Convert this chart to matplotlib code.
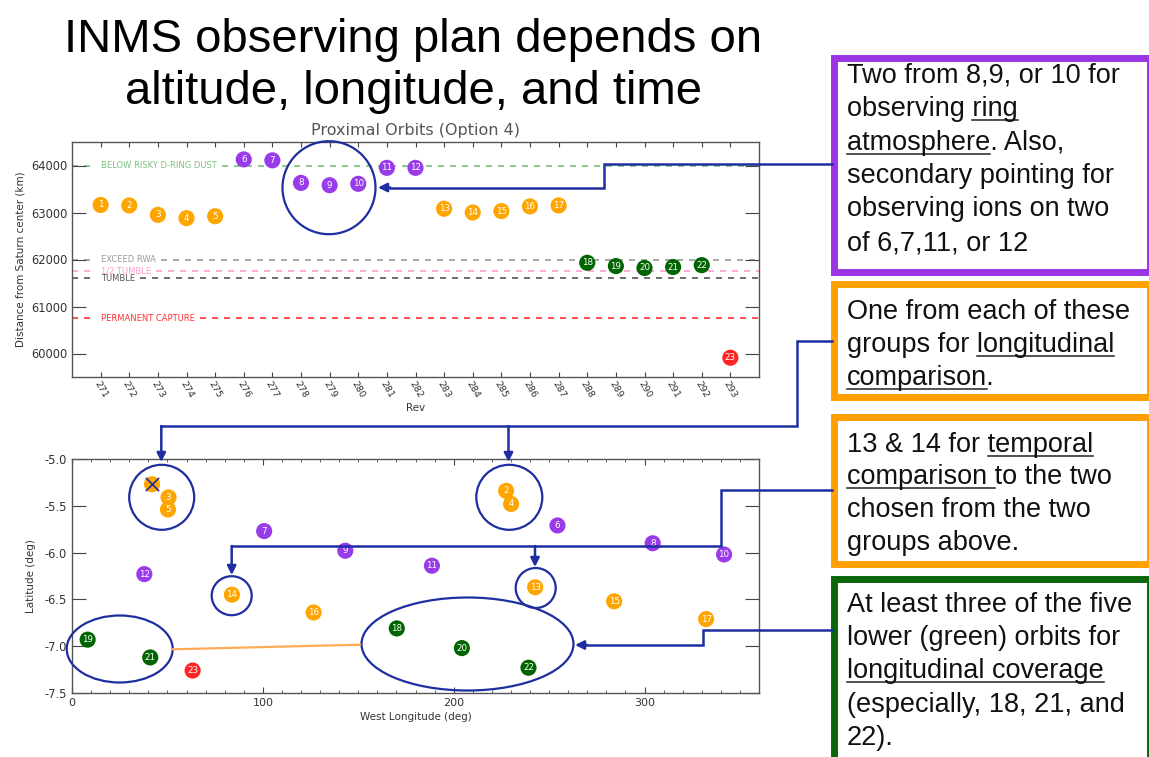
import matplotlib
matplotlib.use('Agg')
import matplotlib.pyplot as plt
from matplotlib.patches import Ellipse, Rectangle
from matplotlib.ticker import MultipleLocator, FormatStrFormatter

# ---- data ----
orbit_ids = [1, 2, 3, 4, 5, 6, 7, 8, 9, 10, 11, 12, 13, 14, 15, 16, 17, 18, 19, 20, 21, 22, 23]
revs = [271, 272, 273, 274, 275, 276, 277, 278, 279, 280, 281, 282,
        283, 284, 285, 286, 287, 288, 289, 290, 291, 292, 293]
distance_km = [63160, 63150, 62950, 62880, 62920, 64130, 64110, 63630, 63580, 63610, 63950, 63950,
               63080, 63000, 63030, 63130, 63150, 61930, 61860, 61820, 61840, 61880, 59910]
west_lon = [41.9, 227.5, 50.6, 230.1, 50.3, 254.4, 100.7, 304.3, 143.2, 341.7, 188.6, 37.9,
            242.7, 83.8, 284.1, 126.6, 332.3, 170.2, 8.2, 204.3, 41.0, 239.2, 63.2]
latitude = [-5.27, -5.34, -5.41, -5.48, -5.54, -5.71, -5.77, -5.90, -5.98, -6.02, -6.14, -6.23,
            -6.37, -6.45, -6.52, -6.64, -6.71, -6.81, -6.93, -7.02, -7.12, -7.23, -7.26]
groups = ['orange'] * 5 + ['purple'] * 7 + ['orange'] * 5 + ['green'] * 5 + ['red']

limit_values = [64000, 62000, 61750, 61600, 60750]
limit_names = ['BELOW RISKY D-RING DUST', 'EXCEED RWA', '1/2 TUMBLE', 'TUMBLE', 'PERMANENT CAPTURE']
limit_colors = ['#7cc07c', '#9a9a9a', '#ff9ccf', '#555555', '#ff3030']

lat_ticks = [-7.5, -7.0, -6.5, -6.0, -5.5, -5.0]
lon_ticks = [0, 100, 200, 300]
dist_ticks = [60000, 61000, 62000, 63000, 64000]

GROUP_COLORS = {'orange': '#ffa500', 'purple': '#9a3bea', 'green': '#006400', 'red': '#ff2424'}
BLUE = '#1e2ea0'
FONT = 'Liberation Sans'
W, H = 1149, 757

fig = plt.figure(figsize=(W / 100, H / 100), dpi=100)
fig.patch.set_facecolor('white')
renderer = fig.canvas.get_renderer()


def px_axes(x0, y0, x1, y1):
    """axes from image pixel box"""
    return fig.add_axes([x0 / W, 1 - y1 / H, (x1 - x0) / W, (y1 - y0) / H])


def style_axes(ax):
    for spine in ax.spines.values():
        spine.set_color('#555555')
        spine.set_linewidth(1)
    ax.tick_params(which='both', direction='in', top=True, right=True,
                   colors='#444444', labelcolor='#333333', labelsize=8)


colors = [GROUP_COLORS[g] for g in groups]

# ---- top panel: distance vs rev ----
ax1 = px_axes(72, 142, 759, 377)
style_axes(ax1)
ax1.set_xlim(270, 294)
ax1.set_ylim(59500, 64500)
for val, name, col in zip(limit_values, limit_names, limit_colors):
    t = ax1.text(271, val, name, color=col, fontsize=6, ha='left', va='center', zorder=2)
    bb = t.get_window_extent(renderer).transformed(ax1.transData.inverted())
    # dashed line with a gap where the label sits
    ax1.plot([270, 270.8], [val, val], color=col, lw=1.2, dashes=(3.6, 3.6), zorder=1)
    ax1.plot([bb.x1 + 0.2, 294], [val, val], color=col, lw=1.2, dashes=(3.6, 3.6), zorder=1)
ax1.scatter(revs, distance_km, s=135, c=colors, edgecolors='none', zorder=3)
for r, d, n in zip(revs, distance_km, orbit_ids):
    ax1.text(r, d, str(n), color='white', fontsize=6.3, ha='center', va='center', zorder=4)
ax1.set_xticks(revs)
ax1.set_xticklabels([str(r) for r in revs], rotation=-60, fontsize=6.8, ha='center')
ax1.set_yticks(dist_ticks)
ax1.tick_params(axis='y', length=10, labelsize=8.3)
ax1.tick_params(axis='x', length=3.5, pad=2)
ax1.set_xlabel('Rev', fontsize=7.5, color='#333333', labelpad=2)
ax1.set_ylabel('Distance from Saturn center (km)', fontsize=7.5, color='#333333', labelpad=4)
ax1.set_title('Proximal Orbits (Option 4)', fontsize=11.5, color='#555555', pad=5)

# ---- bottom panel: latitude vs west longitude ----
ax2 = px_axes(72, 459, 759, 693)
style_axes(ax2)
ax2.set_xlim(0, 360)
ax2.set_ylim(-7.5, -5.0)
ax2.scatter(west_lon, latitude, s=135, c=colors, edgecolors='none', zorder=3)
for lo, la, n in zip(west_lon, latitude, orbit_ids):
    if n == 1:
        ax2.scatter([lo], [la], marker='x', s=90, color=BLUE, linewidths=1.2, zorder=5)
        continue
    ax2.text(lo, la, str(n), color='white', fontsize=6.3, ha='center', va='center', zorder=4)
ax2.set_xticks(lon_ticks)
ax2.xaxis.set_minor_locator(MultipleLocator(10))
ax2.set_yticks(lat_ticks)
ax2.yaxis.set_major_formatter(FormatStrFormatter('%.1f'))
ax2.tick_params(axis='y', length=10, labelsize=8.3)
ax2.tick_params(axis='x', which='major', length=4)
ax2.tick_params(axis='x', which='minor', length=2.5)
ax2.set_xlabel('West Longitude (deg)', fontsize=7.5, color='#333333', labelpad=3)
ax2.set_ylabel('Latitude (deg)', fontsize=7.5, color='#333333', labelpad=6)

# ---- overlay in image pixels for title, boxes and callouts ----
ov = fig.add_axes([0, 0, 1, 1])
ov.set_xlim(0, W)
ov.set_ylim(H, 0)
ov.axis('off')

ov.text(413.5, 52, 'INMS observing plan depends on', fontsize=34, family=FONT,
        ha='center', va='baseline', color='black')
ov.text(413.5, 104, 'altitude, longitude, and time', fontsize=34, family=FONT,
        ha='center', va='baseline', color='black')

# circles around orbit groups
for (cx, cy), w, h in [((329, 187.7), 93, 93), ((161.7, 497.3), 65, 65),
                       ((509.3, 497.3), 66, 65), ((231.7, 595.7), 40, 39),
                       ((535.7, 588), 40, 40), ((119.7, 649), 106, 67),
                       ((467.5, 644), 212, 93)]:
    ov.add_patch(Ellipse((cx, cy), w, h, fill=False, ec=BLUE, lw=1.6))
ov.plot([172.7, 360], [649.3, 644.7], color='#ffaa55', lw=1.6)


def callout(path, tips):
    xs, ys = zip(*path)
    ov.plot(xs, ys, color=BLUE, lw=1.8, solid_joinstyle='miter')
    for (x0, y0), (x1, y1) in tips:
        ov.annotate('', xy=(x1, y1), xytext=(x0, y0),
                    arrowprops=dict(arrowstyle='-|>', color=BLUE, lw=1.8,
                                    mutation_scale=13, shrinkA=0, shrinkB=0))


callout([(832, 164), (603.5, 164), (603.5, 187.5), (390, 187.5)],
        [((390, 187.5), (378, 187.5))])
callout([(832, 340.7), (797, 340.7), (797, 426), (161.3, 426)],
        [((161.3, 426), (161.3, 462)), ((508.5, 426), (508.5, 462))])
callout([(832, 490), (720.7, 490), (720.7, 546), (231.7, 546)],
        [((231.7, 546), (231.7, 575)), ((535, 546), (535, 567))])
callout([(832, 630), (703.3, 630), (703.3, 645), (587, 645)],
        [((587, 645), (575, 645))])

# text boxes (right edge partly runs off the slide)
for y0, y1, col in [(57.5, 271.5, '#9a35e6'), (283.5, 396.5, '#ffa000'),
                    (416.5, 563.5, '#ffa000'), (578.5, 770, '#0b650b')]:
    ov.add_patch(Rectangle((833.5, y0), 1149.5 - 833.5, y1 - y0, fc='white', ec=col, lw=5))

BOX_SIZE = 19.5


def text_width(s):
    t = ov.text(0, 0, '|' + s + '|', fontsize=BOX_SIZE, family=FONT)
    w = t.get_window_extent(renderer).width
    t.remove()
    t = ov.text(0, 0, '||', fontsize=BOX_SIZE, family=FONT)
    w -= t.get_window_extent(renderer).width
    t.remove()
    return w


def rich_line(x, y, parts):
    full = ''.join(p for p, _ in parts)
    ov.text(x, y, full, fontsize=BOX_SIZE, family=FONT, ha='left', va='baseline', color='#111111')
    cur = x
    for p, ul in parts:
        w = text_width(p)
        if ul:
            ov.plot([cur, cur + w], [y + 3.5, y + 3.5], color='#222222', lw=1.1)
        cur += w


box_lines = [
    (83, [('Two from 8,9, or 10 for', False)]),
    (116.5, [('observing ', False), ('ring', True)]),
    (150, [('atmosphere', True), ('. Also,', False)]),
    (183, [('secondary pointing for', False)]),
    (216.5, [('observing ions on two', False)]),
    (250, [('of 6,7,11, or 12', False)]),
    (319, [('One from each of these', False)]),
    (352, [('groups for ', False), ('longitudinal', True)]),
    (385, [('comparison', True), ('.', False)]),
    (452, [('13 & 14 for ', False), ('temporal', True)]),
    (484, [('comparison ', True), ('to the two', False)]),
    (517, [('chosen from the two', False)]),
    (550, [('groups above.', False)]),
    (612, [('At least three of the five', False)]),
    (645, [('lower (green) orbits for', False)]),
    (678, [('longitudinal coverage', True)]),
    (712, [('(especially, 18, 21, and', False)]),
    (745, [('22).', False)]),
]
for y, parts in box_lines:
    rich_line(847, y, parts)

fig.savefig('out.png', dpi=100, facecolor='white')
